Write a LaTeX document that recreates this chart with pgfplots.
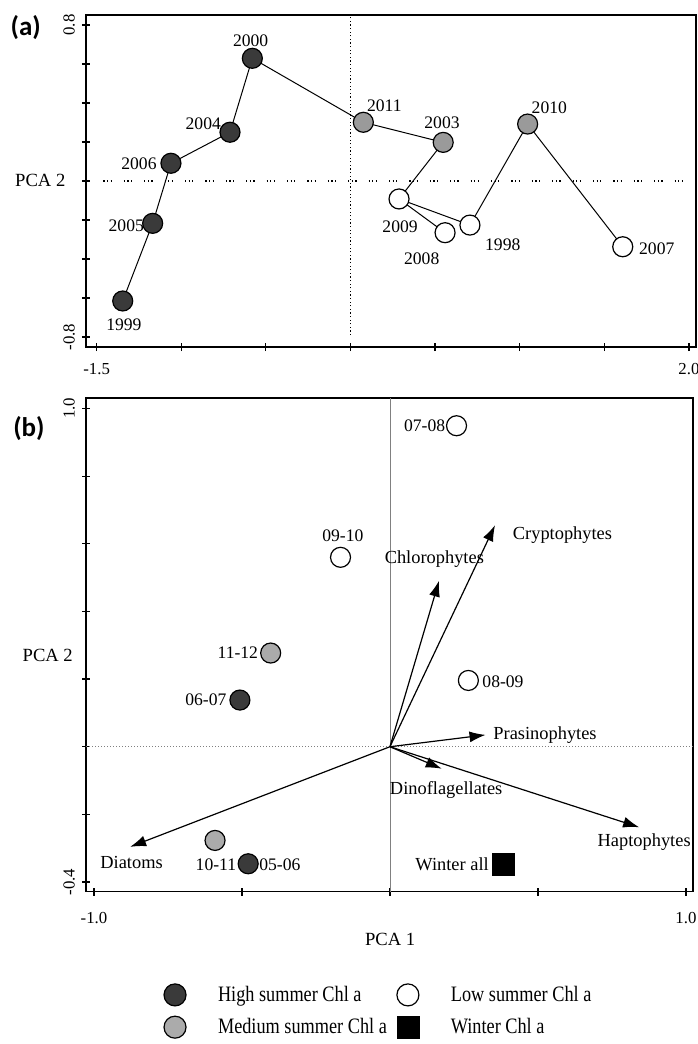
\documentclass[border=0pt]{standalone}
\usepackage{fontspec}
\setmainfont{Liberation Serif}
\newfontfamily\tagfont{Carlito}
\newfontfamily\legfont[FakeStretch=0.83]{Liberation Serif}
\usepackage{pgfplots}
\pgfplotsset{compat=1.18}
\usetikzlibrary{arrows.meta}

\definecolor{hi}{HTML}{3A3A3A}
\definecolor{med}{HTML}{9A9A9A}
\definecolor{medb}{HTML}{ABABAB}

\newcommand\ptfont{\fontsize{8.8}{10}\selectfont}
\newcommand\vecfont{\fontsize{9.2}{11}\selectfont}

\begin{document}
\begin{tikzpicture}
\useasboundingbox (0,0) rectangle (348.5pt,-522pt);
\pgfplotsset{
  pcabase/.style={
    scale only axis, clip=false,
    axis line style={line width=0.7pt},
    tick style={black, line width=0.6pt},
    major tick length=4pt, tick align=center,
    xtick pos=left, ytick pos=left,
    ticklabel style={font=\fontsize{8.4}{10}\selectfont},
    yticklabel style={rotate=90, anchor=south},
  },
  hiM/.style={only marks, mark=*, mark size=5pt, mark options={fill=hi, draw=black, line width=0.6pt}},
  medM/.style={only marks, mark=*, mark size=5pt, mark options={fill=#1, draw=black, line width=0.6pt}},
  loM/.style={only marks, mark=*, mark size=5pt, mark options={fill=white, draw=black, line width=0.6pt}},
  vec/.style={-{Latex[length=8pt,width=5.5pt]}, black, line width=0.6pt, forget plot},
}

% ---------------- panel (a): years ----------------
\begin{axis}[pcabase,
  at={(43pt,-7.5pt)}, anchor=north west,
  width=305pt, height=166pt,
  xmin=-1.563, xmax=2.042, ymin=-0.851, ymax=0.851,
  xtick={-1.5,-1,-0.5,0,0.5,1,1.5,2},
  xticklabels={-1.5,,,,,,,2.0},
  xticklabel style={yshift=-2.5pt},
  ytick={-0.8,-0.6,-0.4,-0.2,0,0.2,0.4,0.6,0.8},
  yticklabels={-0.8,,,,,,,,0.8},
]
\draw[black, line width=0.6pt, dash pattern=on 0.6pt off 1.2pt on 0.6pt off 1.2pt on 0.6pt off 6pt]
  (axis cs:-1.46,0) -- (axis cs:2.042,0);
\draw[black, line width=0.6pt, dash pattern=on 0.6pt off 1.2pt]
  (axis cs:0,-0.79) -- (axis cs:0,0.84);

\addplot[black, line width=0.5pt, forget plot] coordinates {
  (-1.346,-0.615) (-1.169,-0.217) (-1.061,0.091) (-0.712,0.250) (-0.580,0.629)
  (0.076,0.301) (0.548,0.198) (0.287,-0.092) (0.559,-0.265)};
\addplot[black, line width=0.5pt, forget plot] coordinates {
  (0.287,-0.092) (0.706,-0.226) (1.047,0.292) (1.609,-0.337)};

\addplot[hiM, forget plot] coordinates {
  (-1.346,-0.615) (-1.169,-0.217) (-1.061,0.091) (-0.712,0.250) (-0.580,0.629)};
\addplot[medM=med, forget plot] coordinates {(0.076,0.301) (0.548,0.198) (1.047,0.292)};
\addplot[loM, forget plot] coordinates {(0.287,-0.092) (0.559,-0.265) (0.706,-0.226) (1.609,-0.337)};

\begin{scope}[font=\ptfont]
\node at (axis cs:-0.590,0.719) {2000};
\node at (axis cs:-0.870,0.296) {2004};
\node at (axis cs:-1.250,0.091) {2006};
\node at (axis cs:-1.325,-0.231) {2005};
\node at (axis cs:-1.339,-0.738) {1999};
\node at (axis cs:0.200,0.385) {2011};
\node at (axis cs:0.541,0.299) {2003};
\node at (axis cs:0.293,-0.234) {2009};
\node at (axis cs:0.421,-0.396) {2008};
\node at (axis cs:0.900,-0.328) {1998};
\node at (axis cs:1.175,0.378) {2010};
\node at (axis cs:1.810,-0.345) {2007};
\end{scope}

\node[font=\fontsize{9.3}{11}\selectfont] at (rel axis cs:-0.075,0.503) {PCA 2};
\node[font=\tagfont\fontsize{13.5}{15}\selectfont\bfseries] at (rel axis cs:-0.0987,0.961) {(a)};
\end{axis}

% ---------------- panel (b): seasons ----------------
\begin{axis}[pcabase,
  at={(43pt,-199pt)}, anchor=north west,
  width=303.5pt, height=246.75pt,
  xmin=-1.027, xmax=1.024, ymin=-0.428, ymax=1.031,
  xtick={-1,-0.5,0,0.5,1},
  xticklabels={-1.0,,,,1.0},
  xticklabel style={yshift=-5pt},
  ytick={-0.4,-0.2,0,0.2,0.4,0.6,0.8,1.0},
  yticklabels={-0.4,,,,,,,1.0},
  legend columns=2, legend cell align=left,
  legend style={draw=none, fill=none, at={(rel axis cs:0.118,-0.174)}, anchor=north west,
    font=\legfont\fontsize{11}{12}\selectfont, row sep=3pt,
    /tikz/every odd column/.append style={column sep=14pt},
    /tikz/every even column/.append style={column sep=3pt}},
]
\draw[gray, line width=0.4pt] (axis cs:0,-0.428) -- (axis cs:0,1.031);
\draw[gray, line width=0.5pt, densely dotted] (axis cs:-1.027,0) -- (axis cs:1.024,0);

\addplot[vec] coordinates {(0,0) (-0.878,-0.296)};
\addplot[vec] coordinates {(0,0) (0.166,0.491)};
\addplot[vec] coordinates {(0,0) (0.355,0.655)};
\addplot[vec] coordinates {(0,0) (0.323,0.035)};
\addplot[vec] coordinates {(0,0) (0.175,-0.065)};
\addplot[vec] coordinates {(0,0) (0.842,-0.238)};

\addplot[hiM, forget plot] coordinates {(-0.507,0.138) (-0.479,-0.346)};
\addplot[medM=medb, forget plot] coordinates {(-0.403,0.277) (-0.591,-0.277)};
\addplot[loM, forget plot] coordinates {(-0.167,0.560) (0.225,0.949) (0.265,0.196)};
\addplot[only marks, mark=square*, mark size=5.5pt, mark options={fill=black, draw=black}, forget plot]
  coordinates {(0.383,-0.348)};

\begin{scope}[font=\ptfont]
\node at (axis cs:-0.159,0.624) {09-10};
\node at (axis cs:-0.514,0.277) {11-12};
\node at (axis cs:-0.622,0.138) {06-07};
\node at (axis cs:-0.588,-0.348) {10-11};
\node at (axis cs:-0.372,-0.348) {05-06};
\node at (axis cs:0.117,0.949) {07-08};
\node at (axis cs:0.382,0.192) {08-09};
\end{scope}
\begin{scope}[font=\vecfont]
\node at (axis cs:0.583,0.627) {Cryptophytes};
\node at (axis cs:0.150,0.555) {Chlorophytes};
\node at (axis cs:0.524,0.035) {Prasinophytes};
\node at (axis cs:0.190,-0.129) {Dinoflagellates};
\node at (axis cs:0.859,-0.282) {Haptophytes};
\node at (axis cs:0.210,-0.348) {Winter all};
\node at (axis cs:-0.873,-0.341) {Diatoms};
\end{scope}

\node[font=\fontsize{9.3}{11}\selectfont] at (rel axis cs:0.501,-0.098) {PCA 1};
\node[font=\fontsize{9.3}{11}\selectfont] at (rel axis cs:-0.063,0.479) {PCA 2};
\node[font=\tagfont\fontsize{13.5}{15}\selectfont\bfseries] at (rel axis cs:-0.094,0.939) {(b)};

\addlegendimage{only marks, mark=*, mark size=5.5pt, mark options={fill=hi, draw=black, line width=0.6pt}}
\addlegendentry{High summer Chl a}
\addlegendimage{only marks, mark=*, mark size=5.5pt, mark options={fill=white, draw=black, line width=0.6pt}}
\addlegendentry{Low summer Chl a}
\addlegendimage{only marks, mark=*, mark size=5.5pt, mark options={fill=medb, draw=black, line width=0.6pt}}
\addlegendentry{Medium summer Chl a}
\addlegendimage{only marks, mark=square*, mark size=5.5pt, mark options={fill=black, draw=black}}
\addlegendentry{Winter Chl a}
\end{axis}
\end{tikzpicture}
\end{document}
